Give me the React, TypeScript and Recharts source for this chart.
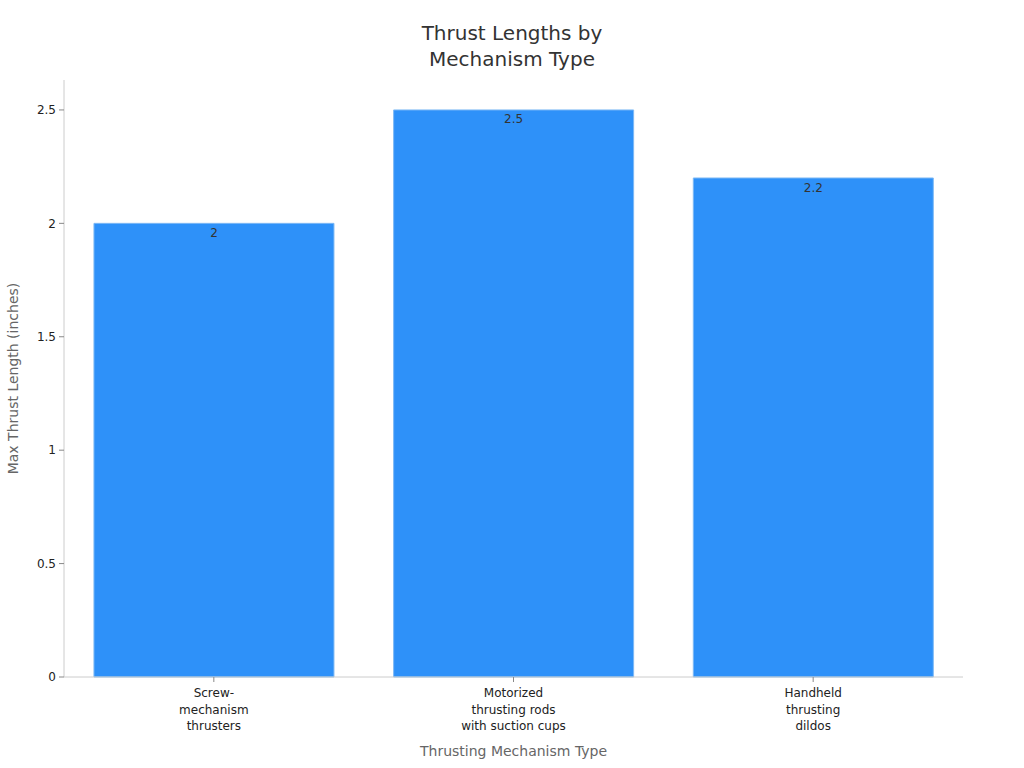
import { Bar, BarChart, Label, LabelList, XAxis, YAxis } from "recharts";

const mechanisms = [
  "Screw-\nmechanism\nthrusters",
  "Motorized\nthrusting rods\nwith suction cups",
  "Handheld\nthrusting\ndildos",
];
const maxThrust = [2, 2.5, 2.2];
const yTicks = [0, 0.5, 1, 1.5, 2, 2.5];

const data = mechanisms.map((name, i) => ({ name, value: maxThrust[i] }));

const FONT = "'DejaVu Sans', Verdana, sans-serif";

const WrappedTick = (props: any) => {
  const { x, y, payload } = props;
  const lines = String(payload.value).split("\n");
  return (
    <g transform={`translate(${x},${y})`}>
      {lines.map((line: string, i: number) => (
        <text
          key={i}
          x={0}
          y={9 + i * 16.5}
          textAnchor="middle"
          dominantBaseline="central"
          fill="#222"
          fontSize={12}
          fontFamily={FONT}
        >
          {line}
        </text>
      ))}
    </g>
  );
};

const App = () => {
  return (
    <div style={{ position: "absolute", left: 0, top: 0, width: 1024, height: 768, background: "#fff", fontFamily: FONT }}>
      <div
        style={{
          position: "absolute",
          left: 0,
          top: 20,
          width: 1024,
          textAlign: "center",
          fontSize: 20,
          lineHeight: "26px",
          color: "#333",
        }}
      >
        Thrust Lengths by
        <br />
        Mechanism Type
      </div>
      <BarChart
        width={1024}
        height={768}
        data={data}
        margin={{ top: 80, right: 61, left: 0, bottom: 0 }}
        barCategoryGap="10%"
      >
        <XAxis
          dataKey="name"
          height={91}
          interval={0}
          tick={<WrappedTick />}
          tickLine={{ stroke: "#888" }}
          tickSize={5}
          axisLine={{ stroke: "#ccc" }}
        >
          <Label
            content={(p: any) => {
              const vb = p.viewBox;
              return (
                <text
                  x={vb.x + vb.width / 2}
                  y={vb.y + 74}
                  textAnchor="middle"
                  dominantBaseline="central"
                  fill="#666"
                  fontSize={14}
                  fontFamily={FONT}
                >
                  Thrusting Mechanism Type
                </text>
              );
            }}
          />
        </XAxis>
        <YAxis
          width={64}
          domain={[0, 2.632]}
          ticks={yTicks}
          tick={{ fill: "#222", fontSize: 12, fontFamily: FONT }}
          tickLine={{ stroke: "#888" }}
          tickSize={5}
          tickMargin={3}
          axisLine={{ stroke: "#ccc" }}
        >
          <Label
            content={(p: any) => {
              const vb = p.viewBox;
              const cy = vb.y + vb.height / 2;
              return (
                <text
                  x={13}
                  y={cy}
                  transform={`rotate(-90, 13, ${cy})`}
                  textAnchor="middle"
                  dominantBaseline="central"
                  fill="#666"
                  fontSize={14}
                  fontFamily={FONT}
                >
                  Max Thrust Length (inches)
                </text>
              );
            }}
          />
        </YAxis>
        <Bar dataKey="value" fill="#2E91F9" stroke="#7DB9F5" strokeWidth={1} isAnimationActive={false}>
          <LabelList
            dataKey="value"
            position="insideTop"
            offset={5}
            fill="#333"
            fontSize={12}
            fontFamily={FONT}
          />
        </Bar>
      </BarChart>
    </div>
  );
};

export default App;
